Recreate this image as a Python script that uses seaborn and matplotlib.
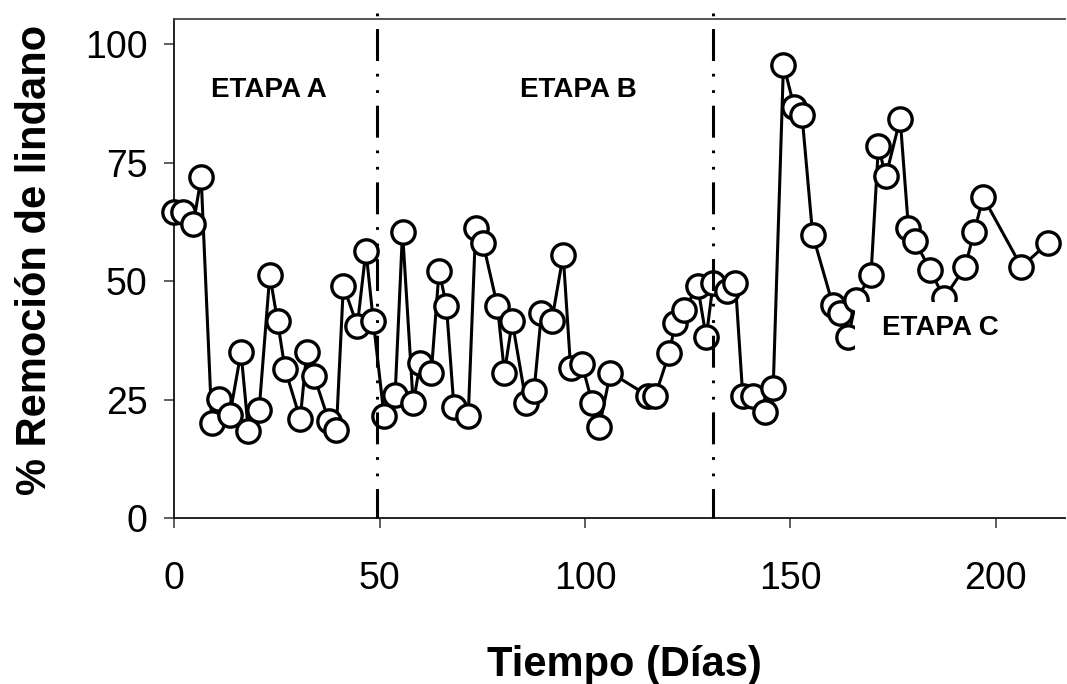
import matplotlib
matplotlib.use("Agg")
import matplotlib.pyplot as plt
import seaborn as sns
import pandas as pd
from matplotlib.patches import Rectangle

# ---- data ----
dias = [0.1, 2.1, 4.7, 6.6, 9.2, 11.0, 13.6, 16.3, 18.1, 20.7, 23.3, 25.2, 27.0,
        30.7, 32.3, 34.1, 37.7, 39.5, 41.2, 44.6, 46.7, 48.5,
        51.1, 53.8, 55.6, 58.2, 59.9, 62.6, 64.5, 66.3, 68.1, 71.6, 73.4, 75.2,
        78.7, 80.4, 82.3, 85.7, 87.6, 89.4, 91.9, 94.7, 96.5, 99.2, 101.8, 103.5,
        106.2, 115.3, 117.1, 120.5, 122.0, 124.2, 127.4, 129.5, 131.2,
        134.6, 136.6, 138.4, 141.0, 143.8, 145.8, 148.3, 150.9, 152.8, 155.4,
        160.3, 162.1, 164.1, 166.0, 169.6, 171.4, 173.2, 176.7, 178.7, 180.3,
        184.0, 187.4, 192.5, 194.7, 196.9, 206.2, 212.6]
remocion = [64.6, 64.6, 62.0, 71.9, 20.1, 25.1, 21.8, 35.0, 18.3, 22.7, 51.3, 41.5, 31.5,
            20.9, 35.0, 29.9, 20.4, 18.5, 49.0, 40.6, 56.4, 41.5,
            21.6, 26.0, 60.4, 24.2, 32.7, 30.7, 52.2, 44.7, 23.5, 21.6, 61.3, 58.0,
            44.7, 30.7, 41.5, 24.2, 26.7, 43.2, 41.5, 55.5, 31.7, 32.6, 24.2, 19.3,
            30.7, 25.8, 25.8, 34.8, 41.2, 43.9, 49.0, 38.1, 49.6,
            48.0, 49.6, 25.7, 25.7, 22.4, 27.5, 95.7, 86.8, 85.1, 59.8,
            45.0, 43.2, 38.3, 46.0, 51.3, 78.4, 72.1, 84.2, 61.3, 58.5,
            52.3, 46.4, 53.0, 60.4, 67.7, 53.0, 58.0]
limites_etapa = [49.3, 131.1]
etapas = ["ETAPA A", "ETAPA B", "ETAPA C"]
x_ticks = [0, 50, 100, 150, 200]
y_ticks = [0, 25, 50, 75, 100]

df = pd.DataFrame({"Tiempo": dias, "Remocion": remocion})

sns.set_theme(style="white")
plt.rcParams["font.family"] = ["Liberation Sans", "DejaVu Sans"]
plt.rcParams["lines.scale_dashes"] = False
plt.rcParams["text.color"] = "black"
plt.rcParams["axes.labelcolor"] = "black"
plt.rcParams["xtick.color"] = "black"
plt.rcParams["ytick.color"] = "black"

fig = plt.figure(figsize=(10.67, 6.84), dpi=100)
ax = fig.add_axes([0.1631, 0.2427, 0.8350, 0.7288])

sns.lineplot(data=df, x="Tiempo", y="Remocion", ax=ax, estimator=None, sort=True,
             color="black", linewidth=2.2, marker="o", markersize=16.8,
             markerfacecolor="white", markeredgecolor="black", markeredgewidth=2.4,
             zorder=3, clip_on=False)

# stage separators (dash-dot-dot)
for xb in limites_etapa:
    ln, = ax.plot([xb, xb], [106.6, 0], color="black", linewidth=2.2, clip_on=False,
                  zorder=6, dash_capstyle="butt")
    ln.set_linestyle((0, (2.0, 9.2, 23, 9.2, 2.0, 9.8)))

# stage labels
ax.text(23.2, 90.3, etapas[0], ha="center", va="center", fontsize=20, fontweight="bold", zorder=5)
ax.text(98.5, 90.3, etapas[1], ha="center", va="center", fontsize=20, fontweight="bold", zorder=5)
ax.add_patch(Rectangle((165.8, 34.5), 40.0, 11.0, facecolor="white", edgecolor="none", zorder=4))
ax.text(186.4, 40.0, etapas[2], ha="center", va="center", fontsize=20, fontweight="bold", zorder=5)

ax.set_xlim(0, 216.8)
ax.set_ylim(0, 105.2)
ax.set_xticks(x_ticks)
ax.set_yticks(y_ticks)
ax.set_xticklabels([str(t) for t in x_ticks])
ax.set_yticklabels([str(t) for t in y_ticks])

for s in ["left", "bottom", "top"]:
    ax.spines[s].set_visible(True)
    ax.spines[s].set_color("#111111")
    ax.spines[s].set_linewidth(1.3)
ax.spines["top"].set_color("#444444")
ax.spines["right"].set_visible(False)

ax.tick_params(axis="both", direction="out", length=7, width=1.1, color="#333333",
               labelsize=27, labelcolor="black")
ax.tick_params(axis="x", pad=24, bottom=True)
ax.tick_params(axis="y", pad=12, left=True)

ax.set_xlabel("Tiempo (Días)", fontsize=30, fontweight="bold", color="black")
ax.set_ylabel("% Remoción de lindano", fontsize=30, fontweight="bold", color="black")
ax.xaxis.set_label_coords(0.505, -0.255)
ax.yaxis.set_label_coords(-0.134, 0.518)

fig.savefig("out.png", dpi=100)
